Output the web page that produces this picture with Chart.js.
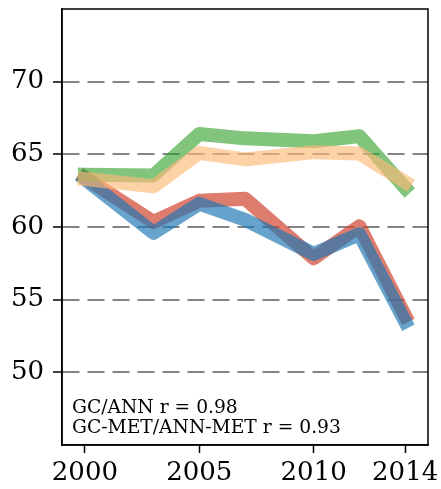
<!DOCTYPE html>
<html>
<head>
<meta charset="utf-8">
<script src="https://cdn.jsdelivr.net/npm/chart.js@4.4.0/dist/chart.umd.min.js"></script>
<style>
  html, body { margin: 0; padding: 0; background: #fff; }
  #wrap { width: 441px; height: 489px; position: relative; }
</style>
</head>
<body>
<div id="wrap"><canvas id="chart"></canvas></div>
<script>
// data
const years = [2000, 2003, 2005, 2007, 2010, 2012, 2014];
const gc = [63.4, 60.35, 61.8, 61.95, 57.85, 60.05, 53.9];
const ann = [63.3, 59.6, 61.6, 60.5, 58.15, 59.5, 53.5];
const gcMet = [63.6, 63.55, 66.4, 66.1, 65.9, 66.25, 62.7];
const annMet = [63.3, 62.8, 65.1, 64.65, 65.15, 65.05, 63.1];
const yTicks = [50, 55, 60, 65, 70];
const xTicks = [2000, 2005, 2010, 2014];
const notes = ["GC/ANN r = 0.98", "GC-MET/ANN-MET r = 0.93"];

Chart.defaults.font.family = "'DejaVu Serif', serif";
Chart.defaults.color = "#000";

function pts(vals) {
    return years.map((y, i) => ({ x: y, y: vals[i] }));
}

function line(vals, color) {
    return {
        data: pts(vals),
        borderColor: color,
        borderWidth: 14,
        pointRadius: 0,
        tension: 0,
        fill: false,
        borderCapStyle: 'square',
        borderJoinStyle: 'round'
    };
}

// box round the plot + the two notes
const frame = {
    id: 'frame',
    afterDraw(chart) {
        const ctx = chart.ctx;
        const a = chart.chartArea;
        ctx.save();
        ctx.strokeStyle = '#000';
        ctx.lineWidth = 1.5;
        ctx.strokeRect(a.left, a.top, a.right - a.left, a.bottom - a.top);
        ctx.fillStyle = '#000';
        ctx.font = "18.7px 'DejaVu Serif', serif";
        ctx.textBaseline = 'alphabetic';
        ctx.fillText(notes[0], a.left + 10, a.bottom - 32);
        ctx.fillText(notes[1], a.left + 10, a.bottom - 12);
        ctx.restore();
    }
};

// listed top-most first (Chart.js draws dataset 0 last)
new Chart(document.getElementById('chart'), {
    type: 'line',
    data: {
        datasets: [
            line(annMet, 'rgba(252, 186, 120, 0.65)'),
            line(gcMet, 'rgba(51, 160, 44, 0.62)'),
            line(ann, 'rgba(31, 120, 180, 0.68)'),
            line(gc, 'rgba(208, 69, 48, 0.7)')
        ]
    },
    options: {
        responsive: true,
        maintainAspectRatio: false,
        animation: false,
        layout: { padding: { top: 9, right: 13, left: 0, bottom: 0 } },
        plugins: {
            legend: { display: false },
            tooltip: { enabled: false }
        },
        scales: {
            x: {
                type: 'linear',
                min: 1999,
                max: 2015,
                afterBuildTicks: (s) => { s.ticks = xTicks.map(v => ({ value: v })); },
                afterFit: (s) => { s.height = 44; s.paddingLeft = 0; s.paddingRight = 0; },
                ticks: {
                    font: { size: 26 },
                    padding: 5,
                    maxRotation: 0,
                    autoSkip: false,
                    callback: (v) => String(v)
                },
                grid: {
                    drawOnChartArea: false,
                    drawTicks: true,
                    tickLength: 8,
                    tickColor: '#000',
                    tickWidth: 1.5
                },
                border: { color: '#000', width: 1.5 }
            },
            y: {
                min: 45,
                max: 75,
                afterBuildTicks: (s) => { s.ticks = yTicks.map(v => ({ value: v })); },
                afterFit: (s) => { s.width = 62; s.paddingTop = 0; s.paddingBottom = 0; },
                ticks: {
                    font: { size: 26 },
                    padding: 9,
                    callback: (v) => String(v)
                },
                grid: {
                    color: 'rgba(110, 110, 110, 0.85)',
                    lineWidth: 2,
                    tickLength: 9,
                    tickColor: '#000',
                    tickWidth: 1.5
                },
                border: { color: '#000', width: 1.5, dash: [17, 8] }
            }
        }
    },
    plugins: [frame]
});
</script>
</body>
</html>
